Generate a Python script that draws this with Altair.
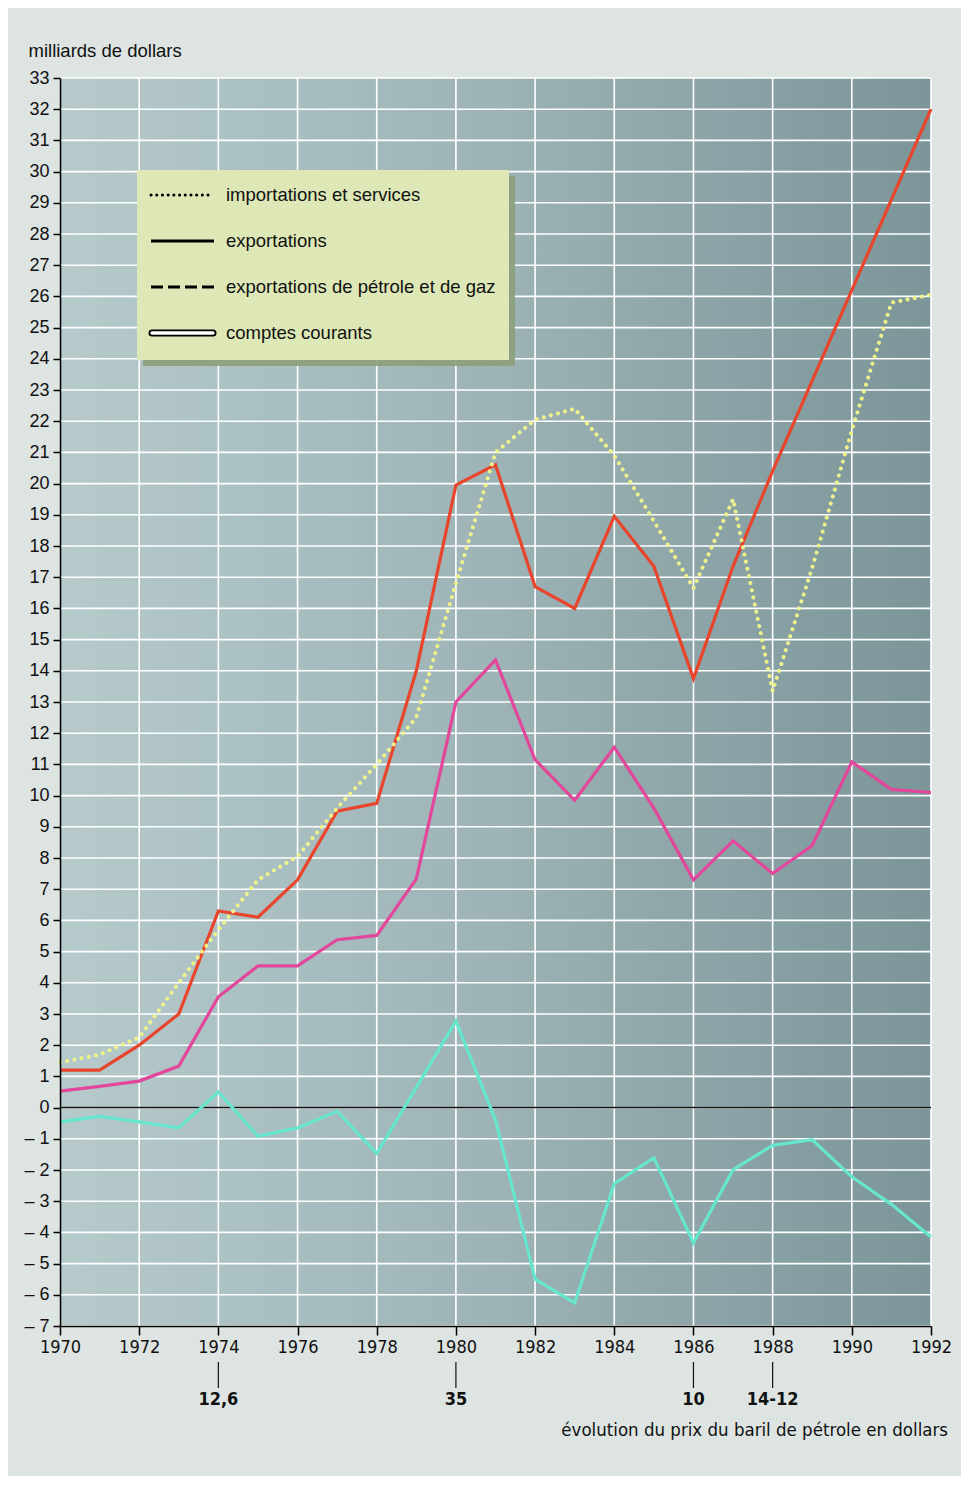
import altair as alt
import pandas as pd

# ---------------- data ----------------
years = list(range(1970, 1993))
importations = [1.45, 1.7, 2.25, 4.0, 5.7, 7.3, 8.05, 9.6, 11.0, 12.5, 16.8, 21.0,
                22.05, 22.4, 20.9, 18.8, 16.65, 19.5, 13.35, 17.3, 21.7, 25.8, 26.05]
exportations = [1.2, 1.2, 2.0, 3.0, 6.3, 6.1, 7.3, 9.5, 9.75, 14.0, 19.95, 20.6,
                16.7, 16.0, 18.95, 17.35, 13.75, 17.35, 20.4, 23.3, 26.2, 29.1, 32.0]
petrole_gaz = [0.53, 0.68, 0.85, 1.33, 3.55, 4.54, 4.54, 5.38, 5.52, 7.33, 13.0, 14.35,
               11.15, 9.85, 11.55, 9.6, 7.3, 8.55, 7.5, 8.4, 11.08, 10.2, 10.1]
comptes = [-0.46, -0.28, -0.46, -0.65, 0.5, -0.92, -0.65, -0.12, -1.47, 0.65, 2.78, -0.4,
           -5.5, -6.26, -2.44, -1.61, -4.34, -1.99, -1.21, -1.03, -2.22, -3.1, -4.15]

price_years = [1974, 1980, 1986, 1988]
price_labels = ["12,6", "35", "10", "14-12"]

legend_labels = ["importations et services", "exportations",
                 "exportations de pétrole et de gaz", "comptes courants"]

y_ticks = list(range(-7, 34))
x_ticks = list(range(1970, 1993, 2))

# ---------------- layout ----------------
W, H = 871, 1248
FONT = "Liberation Sans, Arial, Helvetica, sans-serif"
NARROW = "Liberation Sans Narrow, Arial Narrow, DejaVu Sans Condensed, sans-serif"

xscale = alt.Scale(domain=[1970, 1992], nice=False, zero=False)
yscale = alt.Scale(domain=[-7, 33], nice=False, zero=False)

YAXIS = alt.Axis(
    values=y_ticks, grid=False, domain=True, domainColor="black", domainWidth=1.6,
    ticks=True, tickColor="black", tickSize=7, tickWidth=1.5,
    labelFont=FONT, labelFontSize=18, labelColor="#111", labelPadding=4,
    labelOverlap=False, labelFlush=False,
    labelExpr="datum.value < 0 ? '– ' + abs(datum.value) : datum.label",
    title="milliards de dollars", titleAngle=0, titleAlign="left",
    titleBaseline="middle", titleX=-32, titleY=-28, titleFont=FONT,
    titleFontSize=18.5, titleFontWeight="normal", titleColor="#111", zindex=1,
)
XAXIS = alt.Axis(
    values=x_ticks, format="d", grid=False, domain=True, domainColor="black",
    domainWidth=1.6, ticks=True, tickColor="black", tickSize=9, tickWidth=1.5,
    labelFont=NARROW, labelFontSize=18, labelColor="#111", labelPadding=3,
    labelOverlap=False, labelFlush=False, title="", zindex=1,
)

df = pd.DataFrame({
    "year": years,
    "imp": importations,
    "exp": exportations,
    "oil": petrole_gaz,
    "cc": comptes,
})
df_price = pd.DataFrame({"year": price_years, "label": price_labels})
df_y = pd.DataFrame({"v": y_ticks})
df_x = pd.DataFrame({"year": x_ticks})
one = alt.Data(values=[{}])

# gradient background of the plot area
grad = alt.LinearGradient(
    gradient="linear",
    stops=[alt.GradientStop(offset=0, color="#b6cacc"),
           alt.GradientStop(offset=0.5, color="#9db3b5"),
           alt.GradientStop(offset=1, color="#7b9599")],
    x1=0, x2=1, y1=0, y2=0,
)
bg = alt.Chart(one).mark_rect(color=grad).encode(
    x=alt.value(0), x2=alt.value(W), y=alt.value(0), y2=alt.value(H)
)

X = alt.X("year:Q", scale=xscale, axis=XAXIS)

# horizontal grid
hgrid = alt.Chart(df_y).mark_rule(color="white", strokeWidth=1.6).encode(
    y=alt.Y("v:Q", scale=yscale, axis=YAXIS)
)
# vertical grid
vgrid = alt.Chart(df_x).mark_rule(color="white", strokeWidth=1.6).encode(x=X)

zero = alt.Chart(alt.Data(values=[{"v": 0}])).mark_rule(color="#111", strokeWidth=1.5).encode(
    y=alt.Y("v:Q", scale=yscale, axis=YAXIS)
)


def series(field, color, **kw):
    return alt.Chart(df).mark_line(color=color, **kw).encode(
        x=X,
        y=alt.Y(f"{field}:Q", scale=yscale, axis=YAXIS),
    )


l_cc = series("cc", "#66e6cc", strokeWidth=3.2)
l_oil = series("oil", "#e2479c", strokeWidth=3.2)
l_exp = series("exp", "#e8452c", strokeWidth=3.2)
l_imp = series("imp", "#eef28c", strokeWidth=4, strokeDash=[0.1, 7.2], strokeCap="round")

# ---------------- legend box ----------------
LX0, LX1, LY0, LY1 = 77, 449, 92, 282
shadow = alt.Chart(one).mark_rect(color="#8c9e7a", opacity=0.9).encode(
    x=alt.value(LX0 + 6), x2=alt.value(LX1 + 6), y=alt.value(LY0 + 6), y2=alt.value(LY1 + 6)
)
box = alt.Chart(one).mark_rect(color="#dde8b6").encode(
    x=alt.value(LX0), x2=alt.value(LX1), y=alt.value(LY0), y2=alt.value(LY1)
)
rows = [117, 163, 209, 255]
SX0, SX1, TX = 91, 153, 166

leg_layers = []
leg_layers.append(alt.Chart(one).mark_rule(color="black", strokeWidth=3, strokeDash=[0.1, 5.6], strokeCap="round").encode(
    x=alt.value(SX0), x2=alt.value(SX1), y=alt.value(rows[0])))
leg_layers.append(alt.Chart(one).mark_rule(color="black", strokeWidth=3).encode(
    x=alt.value(SX0), x2=alt.value(SX1 + 1), y=alt.value(rows[1])))
leg_layers.append(alt.Chart(one).mark_rule(color="black", strokeWidth=3, strokeDash=[12, 5]).encode(
    x=alt.value(SX0), x2=alt.value(SX1 + 1), y=alt.value(rows[2])))
leg_layers.append(alt.Chart(one).mark_rule(color="black", strokeWidth=7, strokeCap="round").encode(
    x=alt.value(SX0 + 1), x2=alt.value(SX1), y=alt.value(rows[3])))
leg_layers.append(alt.Chart(one).mark_rule(color="white", strokeWidth=3.4, strokeCap="round").encode(
    x=alt.value(SX0 + 1), x2=alt.value(SX1), y=alt.value(rows[3])))
for lab, ry in zip(legend_labels, rows):
    leg_layers.append(alt.Chart(one).mark_text(
        text=lab, align="left", baseline="middle", font=FONT, fontSize=18.5, color="#111"
    ).encode(x=alt.value(TX), y=alt.value(ry)))

# ---------------- oil price annotations ----------------
p_rule = alt.Chart(df_price).mark_rule(color="#111", strokeWidth=1.2).encode(
    x=X, y=alt.value(H + 36), y2=alt.value(H + 62)
)
p_text = alt.Chart(df_price).mark_text(
    font=NARROW, fontSize=18, fontWeight="bold", color="#111", baseline="middle", align="center"
).encode(x=X, y=alt.value(H + 74), text="label:N")
p_caption = alt.Chart(one).mark_text(
    text="évolution du prix du baril de pétrole en dollars", font=NARROW, fontSize=18.5,
    color="#111", align="right", baseline="middle"
).encode(x=alt.value(888), y=alt.value(H + 104))

chart = alt.layer(
    bg, hgrid, vgrid, zero, l_cc, l_oil, l_exp, l_imp,
    shadow, box, *leg_layers, p_rule, p_text, p_caption
).properties(
    width=W, height=H,
    autosize=alt.AutoSizeParams(type="none"),
    padding={"left": 52, "top": 70, "right": 30, "bottom": 150},
    background="#dde4e2",
).configure_view(stroke="transparent")

chart.save("out.html", embed_options={"renderer": "svg", "actions": False})
